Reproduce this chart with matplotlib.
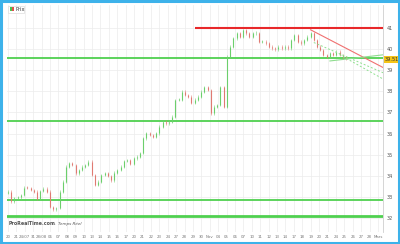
import numpy as np
import matplotlib
matplotlib.use("Agg")
import matplotlib.pyplot as plt
from matplotlib.patches import Rectangle
import matplotlib.transforms as mtransforms

# ---- data ----
closes = [33.26, 32.8, 32.97, 33.0, 33.1, 33.45, 33.43, 33.35, 33.26, 32.92,
          33.3, 33.4, 33.26, 32.53, 32.43, 32.5, 33.26, 33.74, 34.44, 34.6,
          34.52, 34.13, 34.29, 34.44, 34.52, 34.68, 34.05, 33.58, 33.74, 34.05,
          34.13, 34.0, 33.8, 34.16, 34.29, 34.44, 34.72, 34.76, 34.56, 34.84,
          34.92, 35.08, 35.78, 36.02, 35.94, 35.86, 36.02, 36.33, 36.57, 36.49,
          36.57, 36.8, 37.59, 37.6, 37.98, 37.83, 37.75, 37.44, 37.6, 37.75,
          37.98, 38.19, 38.06, 36.96, 37.27, 37.35, 38.21, 37.27, 39.63, 40.1,
          40.5, 40.73, 40.58, 40.89, 40.73, 40.58, 40.73, 40.73, 40.34, 40.34,
          40.26, 40.1, 40.03, 39.98, 40.1, 40.03, 40.1, 40.03, 40.42, 40.66,
          40.34, 40.26, 40.42, 40.58, 40.73, 40.42, 40.1, 39.95, 39.71, 39.63,
          39.79, 39.71, 39.87, 39.71, 39.6, 39.55]
first_open = 33.2

y_ticks = [32, 33, 34, 35, 36, 37, 38, 39, 40, 41]
x_labels = ["20", "21", "24/07", "31", "28/08", "06", "07", "08", "09", "10",
            "13", "14", "15", "16", "17", "20", "21", "22", "23", "24",
            "27", "28", "29", "30", "Nov", "04", "05", "06", "07", "10",
            "11", "12", "13", "14", "17", "18", "19", "20", "21", "24",
            "25", "26", "27", "28", "Mars"]

green_levels = [39.55, 36.62, 32.87, 32.12]
green_widths = [1.3, 1.3, 1.3, 2.0]
red_level = 41.0
red_level_start = 58          # candle index where red level begins
last_price = "39.51"

# trend lines: (x0 index, y0, x1 index, y1)
red_trend = (94, 40.9, 124, 38.53)
green_dotted = [(95, 40.3, 124, 38.38), (103, 39.73, 124, 37.94)]
green_rise = (100, 39.43, 124, 39.85)

# ---- figure ----
W, H = 400, 244
fig = plt.figure(figsize=(W / 100, H / 100), dpi=100)
fig.patch.set_facecolor("white")
fig.add_artist(Rectangle((0.0025, 0.004), 0.995, 0.992, transform=fig.transFigure,
                         fill=False, edgecolor="#3db2ea", lw=2.2))

ax_left, ax_right, ax_top, ax_bot = 7, 383, 5, 232
ax = fig.add_axes([ax_left / W, 1 - ax_bot / H, (ax_right - ax_left) / W,
                   (ax_bot - ax_top) / H])

n = len(closes)
px_first, px_last = 8, 346
s = (px_last - px_first) / (n - 1)
ax.set_xlim(-(px_first - ax_left) / s, (n - 1) + (ax_right - px_last) / s)
ax.set_ylim(31.36, 42.07)

# grid
xt = np.linspace(0, (378 - px_first) / s, len(x_labels))
for x in xt:
    ax.axvline(x, color="#ececec", lw=0.5, zorder=0)
for y in y_ticks:
    ax.axhline(y, color="#ececec", lw=0.5, zorder=0)

# candles
opens = [first_open] + closes[:-1]
idx = np.arange(n)
for i, o, c in zip(idx, opens, closes):
    col = "#6ccf6c" if c >= o else "#e07a72"
    lo, hi = min(o, c), max(o, c)
    if hi - lo < 0.04:
        hi = lo + 0.04
    ax.vlines(i, lo - 0.06, hi + 0.06, color=col, lw=0.4, zorder=3)
    ax.vlines(i, lo, hi, color=col, lw=0.8, zorder=3)

# horizontal levels
for lvl, lw in zip(green_levels, green_widths):
    ax.axhline(lvl, color="#4fd04f", lw=lw, zorder=2)
ax.hlines(red_level, red_level_start, ax.get_xlim()[1], color="#e8282a", lw=1.5, zorder=2)

# trend lines
ax.plot([red_trend[0], red_trend[2]], [red_trend[1], red_trend[3]],
        color="#f07070", lw=0.8, zorder=4)
for t in green_dotted:
    ax.plot([t[0], t[2]], [t[1], t[3]], color="#8fe08f", lw=0.7, ls=(0, (2, 2)), zorder=4)
ax.plot([green_rise[0], green_rise[2]], [green_rise[1], green_rise[3]],
        color="#8fdc8f", lw=0.8, zorder=4)

# axes styling
for sp in ["left", "top", "bottom"]:
    ax.spines[sp].set_visible(False)
ax.spines["right"].set_color("#cfcfcf")
ax.spines["right"].set_linewidth(0.6)
ax.yaxis.tick_right()
ax.set_yticks(y_ticks)
ax.set_yticklabels([str(v) for v in y_ticks])
ax.tick_params(axis="y", labelsize=3.6, length=0, pad=2.5, colors="#555555")
ax.set_xticks(xt)
ax.set_xticklabels(x_labels)
ax.tick_params(axis="x", labelsize=2.8, length=0, pad=2.0, colors="#777777")

# last price tag
tr = mtransforms.blended_transform_factory(ax.transAxes, ax.transData)
ax.text(1.005, float(last_price), last_price,
        transform=tr, fontsize=3.6, color="#333333", va="center", ha="left",
        bbox=dict(boxstyle="square,pad=0.25", fc="#f5c518", ec="none"), clip_on=False)

# legend
ax.add_artist(Rectangle((0.003, 0.965), 0.042, 0.03, transform=ax.transAxes,
                        fc="white", ec="#dddddd", lw=0.5, zorder=6))
ax.add_artist(Rectangle((0.009, 0.972), 0.005, 0.017, transform=ax.transAxes,
                        fc="#4fc04f", ec="none", zorder=7))
ax.add_artist(Rectangle((0.014, 0.972), 0.005, 0.017, transform=ax.transAxes,
                        fc="#e05050", ec="none", zorder=7))
ax.text(0.022, 0.980, "Prix", transform=ax.transAxes, fontsize=3.6,
        color="#333333", va="center", ha="left", zorder=7)

# watermark
ax.text(0.003, 0.025, "ProRealTime.com", transform=ax.transAxes, fontsize=3.4,
        color="#555555", fontweight="bold", va="bottom", ha="left")
ax.text(0.125, 0.025, "-  Temps Réel", transform=ax.transAxes, fontsize=3.0,
        color="#555555", style="italic", va="bottom", ha="left")

fig.savefig("out.png", dpi=100)
